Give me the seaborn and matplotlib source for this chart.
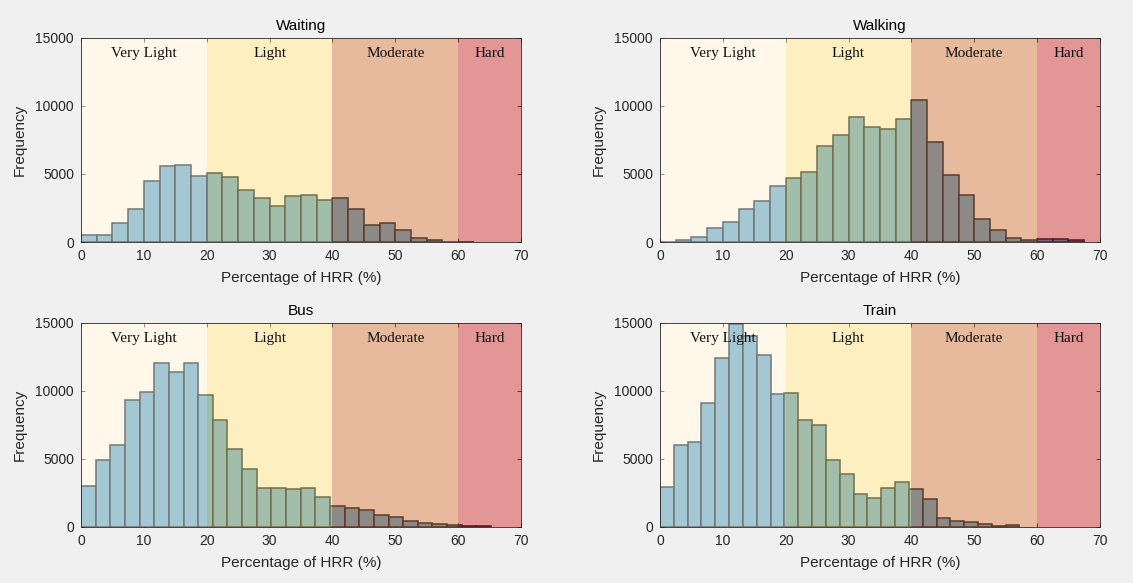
import numpy as np
import pandas as pd
import matplotlib
matplotlib.use("Agg")
import matplotlib.pyplot as plt
import seaborn as sns

# ---- data ----
titles = ["Waiting", "Walking", "Bus", "Train"]

waiting_width = 2.5
waiting_counts = [500, 500, 1390, 2460, 4510, 5610, 5680, 4850, 5050, 4760, 3800, 3240,
                  2630, 3410, 3490, 3100, 3240, 2440, 1270, 1390, 900, 270, 120, 30, 10]

walking_width = 2.5
walking_counts = [0, 120, 340, 1050, 1440, 2390, 3020, 4120, 4680, 5150, 7050, 7900, 9220,
                  8440, 8290, 9020, 10410, 7340, 4900, 3440, 1680, 900, 270, 120, 190, 190, 120]

bus_width = 2.33
bus_counts = [3020, 4900, 6020, 9320, 9950, 12070, 11370, 12070, 9710, 7900, 5710, 4270,
              2880, 2880, 2800, 2880, 2240, 1560, 1390, 1220, 900, 760, 440, 270, 200, 120, 100, 80]

train_width = 2.2
train_counts = [2950, 6020, 6270, 9150, 12390, 14950, 14020, 12610, 9780, 9850, 7900, 7510,
                4900, 3880, 2460, 2150, 2880, 3270, 2780, 2070, 660, 440, 340, 190, 50, 120]

zone_names = ["Very Light", "Light", "Moderate", "Hard"]
zone_edges = [0, 20, 40, 60, 70]
zone_colors = ["#FFEFD0", "#FDDC71", "#C9611D", "#C00C0C"]

series = [(waiting_width, waiting_counts), (walking_width, walking_counts),
          (bus_width, bus_counts), (train_width, train_counts)]

# ---- style ----
sns.set_style("ticks")
plt.rcParams["font.family"] = ["Liberation Sans", "DejaVu Sans"]

fig = plt.figure(figsize=(11.33, 5.83), dpi=100, facecolor="#F0F0F0")
lefts = [0.0715, 0.5825]
bottoms = [0.5849, 0.0961]
W, H = 0.3883, 0.350

for i, (title, (bw, counts)) in enumerate(zip(titles, series)):
    ax = fig.add_axes([lefts[i % 2], bottoms[i // 2], W, H])
    ax.set_facecolor("white")
    n = len(counts)
    centers = np.arange(n) * bw + bw / 2
    df = pd.DataFrame({"x": centers, "count": counts})
    sns.histplot(data=df, x="x", weights="count", binwidth=bw, binrange=(0, n * bw),
                 ax=ax, color="#5EA9D7", alpha=1.0, edgecolor="#0A1E32",
                 linewidth=1.1, zorder=1)
    for z in range(4):
        ax.axvspan(zone_edges[z], zone_edges[z + 1], color=zone_colors[z],
                   alpha=0.43, lw=0, zorder=2)
        ax.text((zone_edges[z] + zone_edges[z + 1]) / 2, 13850, zone_names[z],
                ha="center", va="center", fontsize=11,
                family=["Liberation Serif", "DejaVu Serif"], color="#111111", zorder=3)
    ax.set_xlim(0, 70)
    ax.set_ylim(0, 15000)
    ax.set_xticks(range(0, 71, 10))
    ax.set_yticks([0, 5000, 10000, 15000])
    ax.tick_params(direction="in", top=True, right=True, labelsize=10,
                   colors="#262626", length=3, width=0.6, pad=5)
    for s in ax.spines.values():
        s.set_visible(True)
        s.set_color("#262626")
        s.set_linewidth(0.6)
        s.set_zorder(4)
    ax.set_title(title, fontsize=11, color="#000000", pad=6)
    ax.set_xlabel("Percentage of HRR (%)", fontsize=11, color="#262626", labelpad=6)
    ax.set_ylabel("Frequency", fontsize=11, color="#262626", labelpad=6)

fig.savefig("out.png", dpi=100, facecolor=fig.get_facecolor())
